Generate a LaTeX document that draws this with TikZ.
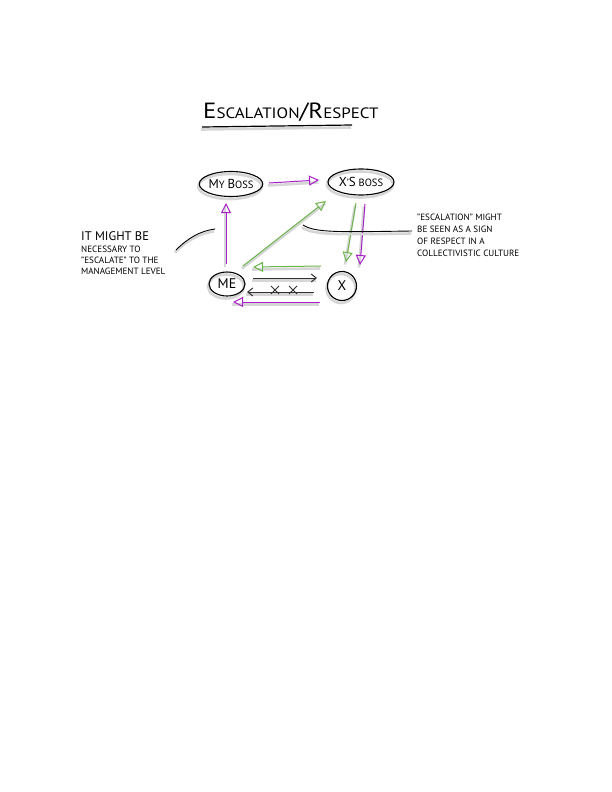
\documentclass[tikz,border=0pt]{standalone}
\usepackage{fontspec}
\setmainfont{PT Sans}
\usetikzlibrary{arrows.meta,shapes.geometric,calc}
\definecolor{pur}{HTML}{A820C8}
\definecolor{grn}{HTML}{6CB44C}
\newcommand\bigc[1]{{\fontsize{13}{12}\selectfont #1}}
\begin{document}
\begin{tikzpicture}[x=1pt,y=-1pt,
  shad/.style={preaction={draw=black!16, line width=2.6pt, -, transform canvas={xshift=-1pt,yshift=-2.5pt}}},
  bubble/.style={draw=black, line width=1.1pt, ellipse, inner sep=0pt, shad, font=\fontsize{10.5}{10}\selectfont},
  tip/.style={-{Triangle[open,length=10pt,width=10pt,line width=1pt]}},
  parr/.style={draw=pur, line width=1pt, tip, shad},
  garr/.style={draw=grn, line width=1pt, tip, shad},
  karr/.style={draw=black!80, line width=1pt, -{Straight Barb[length=5pt,width=8pt,line width=1pt]}, shad},
  note/.style={align=left, inner sep=0pt, font=\fontsize{9.1}{12}\selectfont},
  pointer/.style={draw=black, line width=0.9pt, shad}
]
\useasboundingbox (0,0) rectangle (612,792);
\fill[white] (0,0) rectangle (612,792);

% title
\node[inner sep=0pt, anchor=base west, xscale=1.13] (title) at (203,118)
  {\fontsize{22}{22}\selectfont E\fontsize{15}{15}\selectfont SCALATION\fontsize{22}{22}\selectfont/R\fontsize{15}{15}\selectfont ESPECT};
\coordinate (u1) at (202,127);
\coordinate (u2) at (352,125);
\draw[line width=1.2pt, shad] (u1) -- (u2);

% nodes
\node[bubble, minimum width=62pt, minimum height=25pt] (myboss) at (231,184) {\bigc{M}Y \bigc{B}OSS};
\node[bubble, minimum width=66pt, minimum height=26pt] (xboss) at (361,182) {\bigc{X}'\bigc{S} BOSS};
\node[bubble, minimum width=36pt, minimum height=24pt] (me) at (227,284) {\fontsize{14}{14}\selectfont ME};
\node[bubble, circle, minimum size=29pt] (x) at (342,286) {\fontsize{14}{14}\selectfont X};

% connectors
\draw[parr] ($(myboss)+(38,-1)$) -- ($(xboss)+(-42,-2)$);
\draw[parr] ($(me)+(-1,-20)$) -- ($(myboss)+(-5,19)$);
\draw[garr] ($(me)+(16,-18)$) -- ($(xboss)+(-35,19)$);
\draw[garr] ($(xboss)+(-5,21)$) -- ($(x)+(4,-24)$);
\draw[parr] ($(xboss)+(4,22)$) -- ($(x)+(18,-21)$);
\draw[garr] ($(x)+(-21,-20)$) -- ($(me)+(26,-17)$);
\draw[karr] ($(me)+(26,-6)$) -- ($(x)+(-25,-8)$);
\draw[karr] ($(x)+(-28,6)$) -- ($(me)+(20,8)$);
\coordinate (c1) at (275,290);
\coordinate (c2) at (293,290);
\draw[line width=0.9pt, black!80] ($(c1)+(-4,-4)$) -- ($(c1)+(4,4)$) ($(c1)+(-4,4)$) -- ($(c1)+(4,-4)$);
\draw[line width=0.9pt, black!80] ($(c2)+(-4,-4)$) -- ($(c2)+(4,4)$) ($(c2)+(-4,4)$) -- ($(c2)+(4,-4)$);
\draw[parr] ($(x)+(-22,16)$) -- ($(me)+(6,18)$);

% notes
\node[note, anchor=north west] (lnote) at (81,231)
  {{\fontsize{12.5}{12}\selectfont IT MIGHT BE}\\[0pt]
   NECESSARY TO\\[-1pt]
   "ESCALATE" TO THE\\[-1pt]
   MANAGEMENT LEVEL};
\coordinate (la) at (176,250);
\coordinate (lb) at (215,229);
\draw[pointer] (la) .. controls (188,238) and (200,231) .. (lb);

\node[note, anchor=north west] (rnote) at (417,214)
  {"ESCALATION" MIGHT\\
   BE SEEN AS A SIGN\\
   OF RESPECT IN A\\
   COLLECTIVISTIC CULTURE};
\coordinate (ra) at (303,225);
\coordinate (rb) at (412,231);
\draw[pointer] (ra) .. controls (315,233) and (340,232) .. (rb);
\end{tikzpicture}
\end{document}
